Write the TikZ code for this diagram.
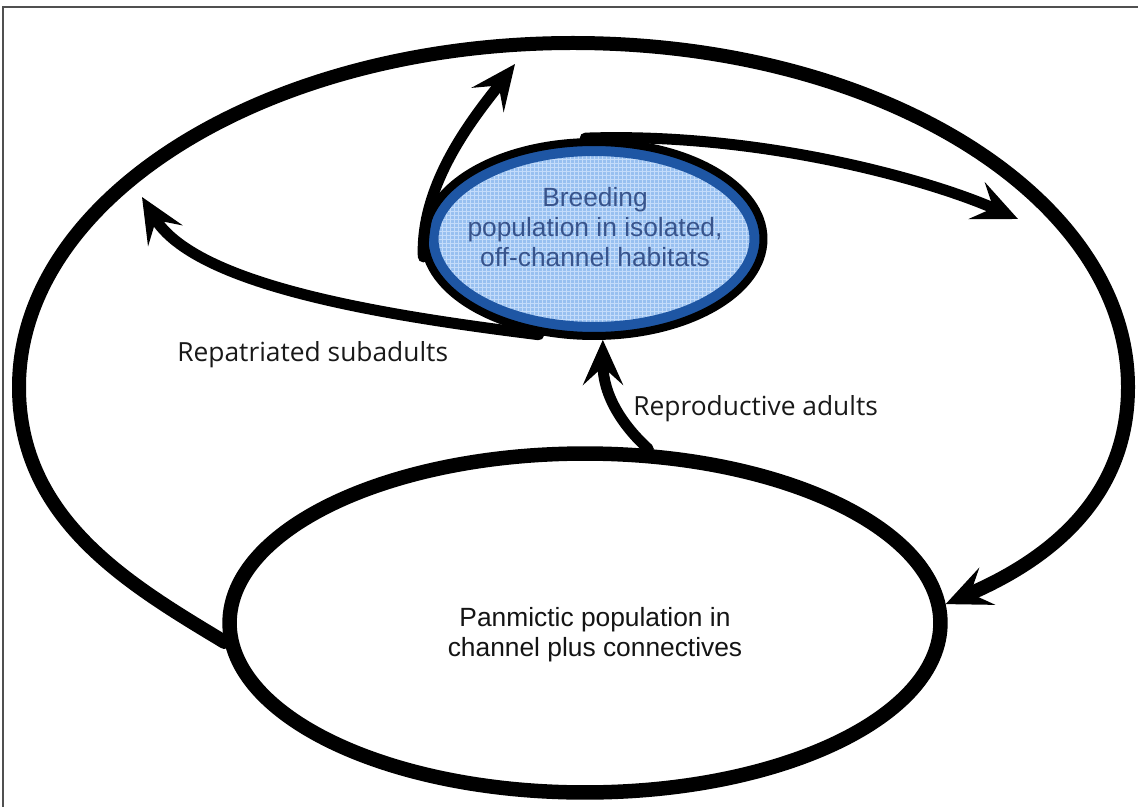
\documentclass[tikz,border=0pt]{standalone}
\usepackage{fontspec}
\usepackage{xcolor}
\usetikzlibrary{arrows.meta,shapes.geometric,positioning}
\newfontfamily\blobfont{Liberation Sans}
\newfontfamily\labfont{Open Sans}
\definecolor{breedfill}{RGB}{152,192,240}
\definecolor{breedgrid}{RGB}{196,220,250}
\definecolor{breedring}{RGB}{30,86,164}
\definecolor{breedtext}{RGB}{56,84,140}
\definecolor{pantext}{RGB}{20,20,20}
\definecolor{labelgray}{RGB}{25,25,25}
\definecolor{framegray}{RGB}{80,80,80}

\begin{document}
\begin{tikzpicture}[
    x=0.02cm, y=-0.02cm,
    blob/.style={ellipse, inner sep=0, draw=black},
    pan/.style={blob, fill=white, line width=0.29cm, minimum width=14.22cm, minimum height=6.78cm},
    breed/.style={blob, fill=breedfill, line width=0.16cm, minimum width=6.78cm, minimum height=3.88cm,
        path picture={
            \draw[breedgrid, line width=0.45pt, step=0.08cm] (path picture bounding box.south west) grid (path picture bounding box.north east);
            \draw[breedring, line width=0.56cm] (path picture bounding box.center) ellipse [x radius=3.39cm, y radius=1.94cm];
        }},
    blobtext/.style={font=\blobfont\fontsize{15pt}{17pt}\selectfont, align=center, inner sep=0},
    labeltext/.style={font=\labfont\fontsize{15pt}{18pt}\selectfont, text=labelgray, inner sep=0},
    flowarrow/.style={line width=0.22cm, line cap=round, -{Stealth[length=0.9cm, width=0.8cm, inset=0.36cm]}},
    cyclearrow/.style={flowarrow, line width=0.28cm}]
\useasboundingbox (0,0) rectangle (1138,807);
\path[draw, framegray, line width=0.03cm] (3,807) -- (3,7) -- (1138,7);

\node[pan] (pan) at (585,623) {};
\node[blobtext, text=pantext] (pantxt) at (595,635) {Panmictic population in\\channel plus connectives};
\node[breed] (breed) at (594,239) {};
\node[blobtext, text=breedtext] (breedtxt) at (595,227) {Breeding\\population in isolated,\\off-channel habitats};

\coordinate (uptip) at (515,64);
\coordinate (righttip) at (1018,219);
\coordinate (lefttip) at (142,197);

% big loop back into the channel
\draw[cyclearrow] (pan.183) .. controls (130,585) and (19,520) .. (19,387)
    .. controls (19,197) and (267,43) .. (573,43)
    .. controls (880,43) and (1128,197) .. (1128,387)
    .. controls (1128,490) and (1060,555) .. (pan.3);

\draw[flowarrow] (breed.186) .. controls (420,180) and (480,110) .. (uptip);
\draw[flowarrow] (breed.95) .. controls (760,132) and (930,180) .. (righttip);
\draw[flowarrow] (breed.240) .. controls (380,315) and (195,285) .. (lefttip);
\draw[flowarrow] (pan.70) .. controls (622,425) and (603,395) .. (breed.275);

\node[labeltext, anchor=base west] (repat) at (177,361) {Repatriated subadults};
\node[labeltext, anchor=base west] (repro) at (633,415) {Reproductive adults};

\end{tikzpicture}
\end{document}
